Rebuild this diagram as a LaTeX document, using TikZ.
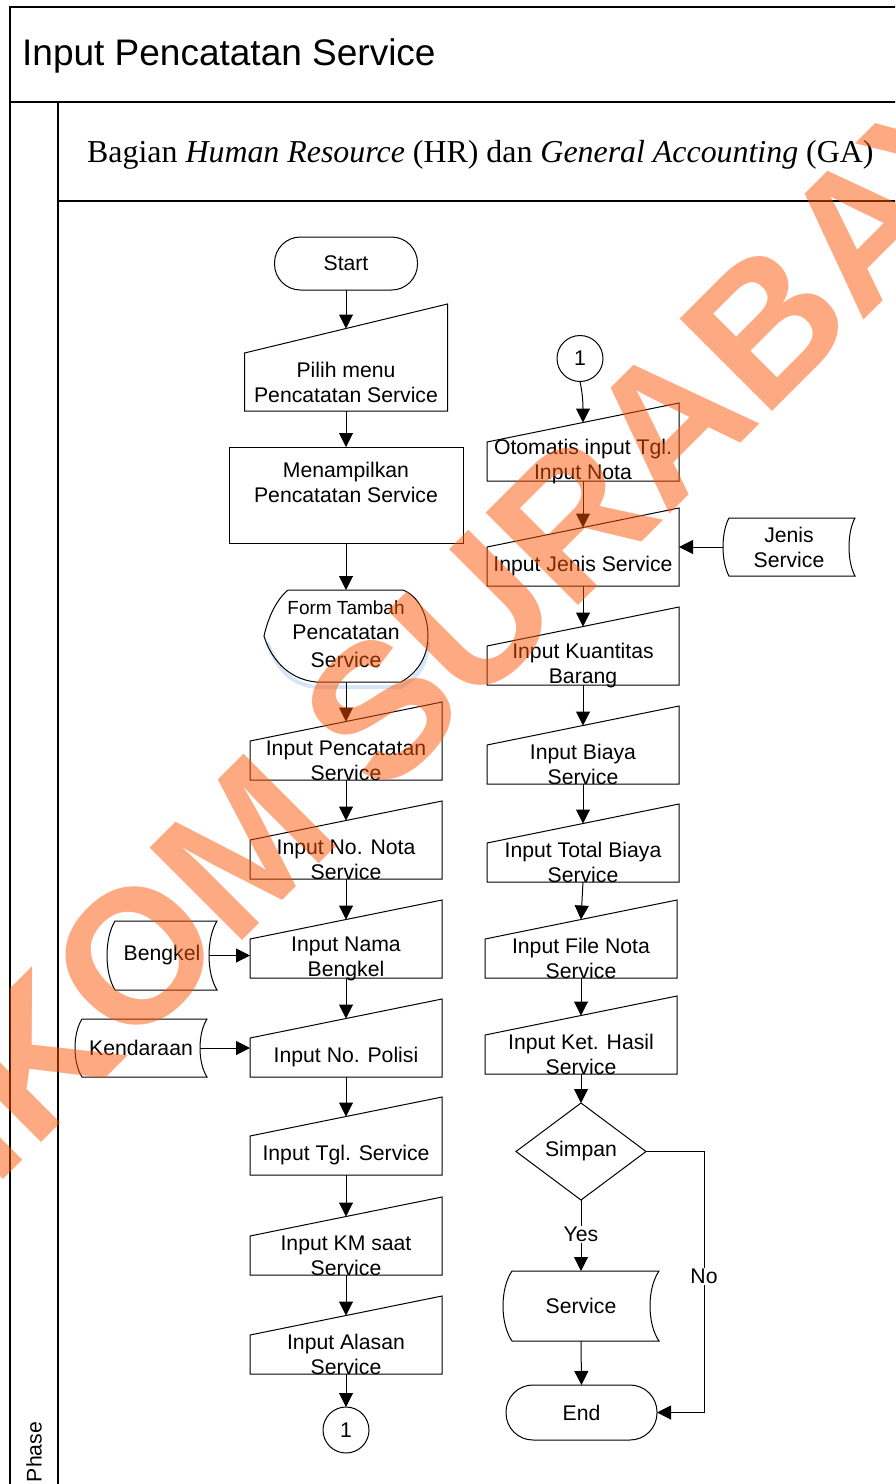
\documentclass[tikz,border=0pt]{standalone}
\usepackage{fontspec}
\setmainfont{Liberation Sans}
\newfontfamily\serifLS{Liberation Serif}
\usetikzlibrary{calc,arrows.meta}
\definecolor{wmorange}{RGB}{251,85,5}
\definecolor{shadowblue}{RGB}{214,230,246}
\newcommand\fmain{\fontsize{21.2}{25}\selectfont}
\tikzset{
  shp/.style={draw=black, line width=1pt},
  lbl/.style={font=\fmain, align=center, inner sep=0pt, outer sep=0pt},
  mi/.style={draw=none, rectangle, inner sep=0pt, outer sep=0pt},
  box/.style={lbl, draw, line width=1pt, rectangle},
  term/.style={box, rounded corners=26},
  conn/.style={lbl, draw, line width=1pt, circle, minimum size=46},
  arr/.style={line width=1pt, -{Triangle[length=14pt,width=14pt]}},
  frameline/.style={line width=2pt},
}
% manual input: name, cx, cy of lower box, width, lower height, slope rise, text
\newcommand\mInput[7]{%
  \node[mi, minimum width=#4, minimum height=#5] (#1) at (#2,#3) {};
  \draw[shp] (#1.south west) -- (#1.south east) -- ($(#1.north east)+(0,-#6)$) -- (#1.north west) -- cycle;
  \node[lbl] (#1-t) at (#1.center) {#7};
  \coordinate (#1-in) at ($(#1.north)+(0,-#6/2)$);
}
% stored data: name, cx, cy, width, height, curve depth, text
\newcommand\sData[7]{%
  \node[mi, minimum width=#4, minimum height=#5] (#1) at (#2,#3) {};
  \draw[shp] ($(#1.north west)+(#6,0)$)
    .. controls ($(#1.north west)!0.25!(#1.south west)+(-#6/3,0)$) and ($(#1.north west)!0.75!(#1.south west)+(-#6/3,0)$) .. ($(#1.south west)+(#6,0)$)
    -- (#1.south east)
    .. controls ($(#1.north east)!0.75!(#1.south east)+(-4*#6/3,0)$) and ($(#1.north east)!0.25!(#1.south east)+(-4*#6/3,0)$) .. (#1.north east)
    -- cycle;
  \node[lbl] (#1-t) at (#1.center) {#7};
  \coordinate (#1-r) at ($(#1.east)+(-#6,0)$);
}
\begin{document}
\begin{tikzpicture}[x=1pt,y=-1pt]
\clip (0,0) rectangle (895,1484);
% frame
\draw[frameline] (10,7) rectangle (1000,1600);
\draw[frameline] (10,102) -- (1000,102);
\draw[frameline] (58,102) -- (58,1600);
\draw[frameline] (58,201) -- (1000,201);
\node[anchor=base west, inner sep=0pt, font=\fontsize{37}{40}\selectfont] (title) at (22,65) {Input Pencatatan Service};
\node[anchor=base west, inner sep=0pt, font=\serifLS\fontsize{31.9}{34}\selectfont] (lane) at (87,162) {Bagian \textit{Human Resource} (HR) dan \textit{General Accounting} (GA)};
\node[lbl, rotate=90] (phase) at (34,1452) {Phase};

% left column
\node[term, minimum width=143, minimum height=53] (start) at (346,263.5) {Start};
\mInput{pilih}{346}{382}{203}{58}{49}{Pilih menu\\Pencatatan Service}
\node[box, minimum width=234, minimum height=96] (menampil) at (346,495) {Menampilkan\\Pencatatan Service\\\mbox{}};
\node[mi, minimum width=164, minimum height=92] (form) at (346,636) {};
\draw[shadowblue, line width=4pt] ($(form.west)+(3,6)$) .. controls +(8,20) and +(-30,-3) .. ($(form.south west)+(52,5)$)
  -- ($(form.south east)+(-27,5)$) .. controls +(18,-10) and +(0,19) .. ($(form.east)+(0,6)$);
\draw[shp] ($(form.north west)+(24,0)$) .. controls +(-12,10) and +(4,-18) .. (form.west)
  .. controls +(6,20) and +(-30,-3) .. ($(form.south west)+(52,0)$)
  -- ($(form.south east)+(-27,0)$) .. controls +(18,-10) and +(0,19) .. (form.east)
  .. controls +(0,-22) and +(15,6) .. ($(form.north east)+(-25,0)$) -- cycle;
\node[lbl] (form-t) at (346,634) {{\fontsize{19}{25}\selectfont Form Tambah}\\Pencatatan\\[3pt]Service};
\mInput{inpenc}{346}{760.5}{192}{39}{39}{Input Pencatatan\\Service}
\mInput{nota}{346}{859.5}{192}{39}{39}{Input No. Nota\\Service}
\mInput{nama}{346}{958.5}{192}{39}{39}{Input Nama\\Bengkel}
\mInput{polisi}{346}{1057.5}{192}{39}{39}{Input No. Polisi}
\mInput{tgl}{346}{1155.5}{192}{39}{39}{Input Tgl. Service}
\mInput{km}{346}{1255.5}{192}{39}{39}{Input KM saat\\Service}
\mInput{alasan}{346}{1354.5}{192}{39}{39}{Input Alasan\\Service}
\node[conn] (c1a) at (346,1430) {1};
\sData{bengkel}{162}{955.5}{110}{69}{8}{Bengkel}
\sData{kend}{141}{1048}{132}{58}{7}{Kendaraan}

% right column
\node[conn] (c1b) at (580,358.5) {1};
\mInput{oto}{583}{461.5}{192}{39}{39}{Otomatis input Tgl.\\Input Nota}
\mInput{jenisin}{583}{566.5}{192}{39}{39}{Input Jenis Service}
\mInput{kuant}{583}{665.5}{192}{39}{39}{Input Kuantitas\\Barang}
\mInput{biaya}{583}{764.5}{192}{39}{39}{Input Biaya\\Service}
\mInput{total}{583}{862.5}{192}{39}{39}{Input Total Biaya\\Service}
\mInput{filenota}{581}{958.5}{192}{39}{39}{Input File Nota\\Service}
\mInput{ket}{581}{1054.5}{192}{39}{39}{Input Ket. Hasil\\Service}
\sData{jenisds}{789}{547}{132}{58}{6}{Jenis\\Service}
\node[mi, minimum width=130, minimum height=97] (simpan) at (581,1151.5) {};
\draw[shp] (simpan.north) -- (simpan.east) -- (simpan.south) -- (simpan.west) -- cycle;
\node[lbl] (simpan-t) at (simpan.center) {Simpan};
\sData{service}{581}{1306}{156}{70}{9}{Service}
\node[term, minimum width=151, minimum height=55, rounded corners=27] (end) at (581.5,1412.5) {End};
\coordinate (nocorner) at (704,1151.5);

% connectors left
\draw[arr] (start.south) -- (pilih-in);
\draw[arr] (pilih.south) -- (menampil.north);
\draw[arr] (menampil.south) -- (form.north);
\draw[arr] (form.south) -- (inpenc-in);
\draw[arr] (inpenc.south) -- (nota-in);
\draw[arr] (nota.south) -- (nama-in);
\draw[arr] (nama.south) -- (polisi-in);
\draw[arr] (polisi.south) -- (tgl-in);
\draw[arr] (tgl.south) -- (km-in);
\draw[arr] (km.south) -- (alasan-in);
\draw[arr] (alasan.south) -- (c1a.north);
\draw[arr] (bengkel-r) -- (bengkel-r -| nama.west);
\draw[arr] (kend-r) -- (kend-r -| polisi.west);
% connectors right
\draw[arr] (c1b.south) .. controls +(3,14) and +(0,-16) .. (oto-in);
\draw[arr] (oto.south) -- (jenisin-in);
\draw[arr] (jenisin.south) -- (kuant-in);
\draw[arr] (kuant.south) -- (biaya-in);
\draw[arr] (biaya.south) -- (total-in);
\draw[arr] (total.south) -- (filenota-in);
\draw[arr] (filenota.south) -- (ket-in);
\draw[arr] (ket.south) -- (simpan.north);
\draw[arr] (jenisds.west) -- (jenisds.west -| jenisin.east);
\draw[arr] (simpan.south) -- node[lbl, fill=white, inner sep=1pt, pos=0.49] (yes) {Yes} (service.north);
\draw[arr] (service.south) -- (end.north);
\draw[arr] (simpan.east) -- (nocorner) |- node[lbl, fill=white, inner sep=1pt, pos=0.24] (no) {No} (end.east);

% watermark
\node[rotate=45, text=wmorange, text opacity=0.5, inner sep=0pt, font=\bfseries\fontsize{190}{190}\selectfont] (wm) at (425,666) {STIKOM SURABAYA};
\end{tikzpicture}
\end{document}
